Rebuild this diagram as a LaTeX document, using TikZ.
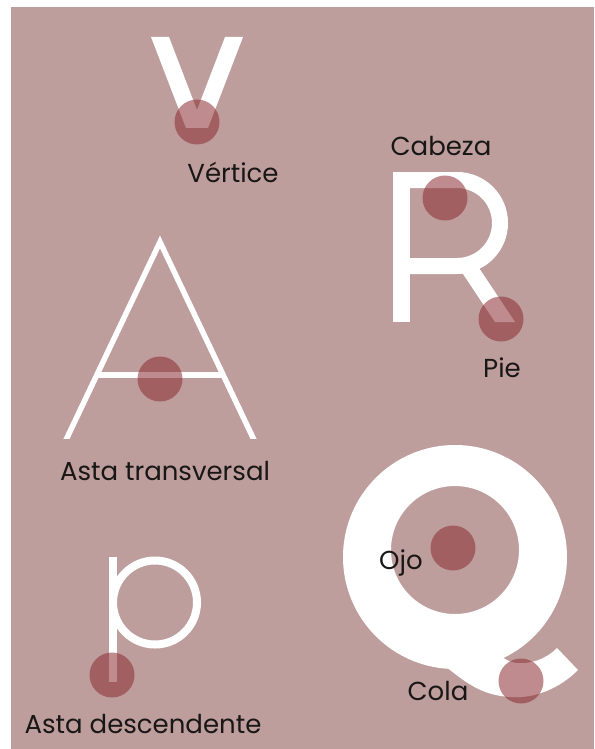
\documentclass[tikz,border=0pt]{standalone}
\usepackage{fontspec}
\setmainfont{Poppins}
\definecolor{bgc}{RGB}{190,157,157}
\definecolor{dotc}{RGB}{139,45,50}
\definecolor{txt}{RGB}{25,22,22}
\begin{document}
\begin{tikzpicture}[x=1pt,y=-1pt,
  dot/.style={circle,fill=dotc,fill opacity=0.55,draw=none,minimum size=45pt,inner sep=0pt},
  lbl/.style={text=txt,font=\fontsize{26}{30}\selectfont,anchor=base,inner sep=0pt},
  glyph/.style={fill=white,draw=none},
  thinstroke/.style={draw=white,line width=5.5pt,miter limit=10},
  pstroke/.style={draw=white,line width=8pt},
  rstroke/.style={draw=white,line width=16pt}]
% page and background
\fill[white] (0,0) rectangle (594,749);
\fill[bgc] (11,7) rectangle (594,749);
\useasboundingbox (0,0) rectangle (594,749);
% V
\fill[glyph] (151,37) -- (169,37) -- (197,110) -- (225,37) -- (243,37) -- (208,128) -- (186,128) -- cycle;
% A
\begin{scope}
  \clip (0,0) rectangle (594,438);
  \draw[thinstroke] (65,442) -- (160,242) -- (255,442);
\end{scope}
\draw[thinstroke] (96,375) -- (224,375);
% R
\fill[glyph] (393,172) rectangle (410,322);
\draw[rstroke] (401,180) -- (457,180) arc[start angle=-90,end angle=90,radius=43] -- (401,266);
\fill[glyph] (455,262) -- (475,262) -- (515,322) -- (495,322) -- cycle;
% p
\draw[pstroke] (113,557) -- (113,682);
\draw[pstroke] (155,602.5) circle[radius=42];
% Q
\fill[glyph,even odd rule] (455,557) circle[radius=112] (455,550) circle[radius=64];
\fill[glyph] (430,640) -- (440,662) .. controls (465,682) and (480,695) .. (510,697)
  .. controls (535,699) and (560,688) .. (578,670) -- (557,648)
  .. controls (545,660) and (530,664) .. (517,663)
  .. controls (507,662) and (500,656) .. (495,650) -- (480,630) -- cycle;
% dots
\node[dot] (dv) at (197,122) {};
\node[dot] (da) at (160,379) {};
\node[dot] (dc) at (445,198) {};
\node[dot] (dp) at (501,319) {};
\node[dot] (dq) at (453,548) {};
\node[dot] (dt) at (521,681) {};
\node[dot] (dd) at (112,675) {};
% labels
\node[lbl] (lv) at (233,182) {Vértice};
\node[lbl] (lc) at (441,155) {Cabeza};
\node[lbl] (lp) at (502,377) {Pie};
\node[lbl] (la) at (165,480) {Asta transversal};
\node[lbl] (lo) at (401,569) {Ojo};
\node[lbl] (lt) at (438,700) {Cola};
\node[lbl] (ld) at (143,733) {Asta descendente};
\end{tikzpicture}
\end{document}
